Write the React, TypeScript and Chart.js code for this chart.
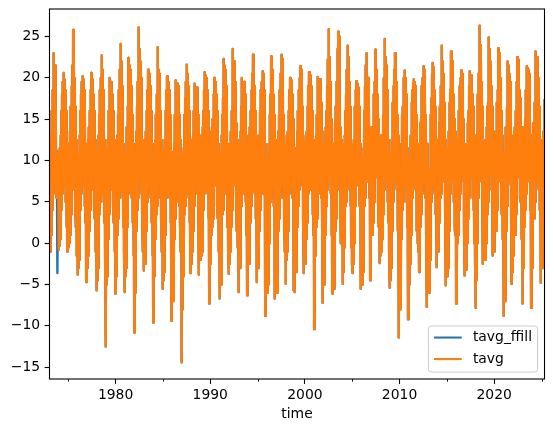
import React, { useEffect, useRef } from "react";
import { Chart, registerables } from "chart.js";

Chart.register(...registerables);

// ---- data: daily-average temperature, sampled twice a month (24 samples / year) ----
const FIRST_YEAR = 1973;
const SAMPLES_PER_YEAR = 24;
const seriesNames = ["tavg_ffill", "tavg"];
const seriesColors = ["#1f77b4", "#ff7f0e"];

type Row = (number | null)[];

const tavg1970s: Row[] = [
  [10, -0.5, 11, -1.0, 13, 1, 16, 4, 18.5, 6, 23.0, 7, 21, 8, 21.5, 7.5, 19, 5.5, 11.2, null, -3.6, null, 10.5, -0.8],
  [11, -0.3, 11.5, 0.5, 13, 1.5, 16, 4, 18, 6, 19.5, 7, 20.6, 7.5, 19.8, 7, 18.5, 5, 16, 2, 12.5, -1.0, 11.5, -0.5],
  [12, -0.5, 11, 0, 13.5, 1, 16.5, 3.5, 19, 5.5, 21.5, 6.5, 25.8, 8, 23, 8, 20, 5.5, 16.5, 2, 12.5, -1.5, 11, -3.8],
  [10.5, -3, 11, -2, 13, 1, 16, 4, 18, 6, 19.5, 7, 20.2, 7.5, 19.8, 7, 18.5, 4.5, 16, 2.5, 12, -4.7, 11, -2.5],
  [12, -3, 12.5, -1.5, 14, 1.5, 16, 4, 18.5, 5, 20.6, 6.5, 19.8, 7.5, 19.5, 7, 18, 4.5, 16, 3, 12.5, -1, 11.5, -5.7],
  [10.5, -4.5, 11, -3, 13, 1, 15.5, 3.5, 18.5, 5, 20, 6, 22.7, 7, 21, 6.5, 18.5, 5, 16, 2.5, 12.5, -1.5, 11.5, -12.5],
  [9, -5, 10, -4, 12.5, 0.5, 16, 3.5, 20.0, 5, 19, 7, 19.5, 7.5, 19.5, 6.5, 18, 5, 16, 2.5, 12.5, -1, 12, -6.1],
];

const tavg1980s: Row[] = [
  [10.5, -4, 12, -1.5, 13, 1, 15.5, 3, 18.5, 5.5, 21, 6.5, 24.1, 7.5, 22, 7, 19, 5.5, 15.5, 2, 12, -1, 11, -5.9],
  [11, -4, 11, -3, 14, 2, 16.5, 4, 22.4, 6, 20.5, 7, 21.5, 7.5, 21, 6.5, 19, 5.5, 15.5, 2.5, 12, -1.5, 10.5, -10.8],
  [9, -6, 11, -3, 13.5, 1.5, 16.5, 4, 19.5, 5.5, 26.1, 7.5, 23.5, 8, 22, 7.5, 20, 6, 16.5, 3, 12.5, -1, 12, -3.3],
  [12.5, -1, 11, -2.5, 13.5, 1.5, 16, 4.5, 18.5, 5, 21.0, 7, 20.5, 8, 20.5, 7.5, 19, 5.5, 16, 2.5, 12, -1.5, 11, -9.6],
  [10, -4, 10.5, -3, 12.5, 0.5, 15.5, 3.5, 18, 4.5, 23.7, 6, 21, 7, 20.5, 7, 19, 5.5, 16, 3, 12.5, -1, 11.5, -5.5],
  [9, -4.5, 10, -3.5, 12.5, 1, 16, 4, 18.5, 5.5, 20.2, 6, 19.8, 7, 19.5, 6.5, 18.5, 5.5, 15.5, 2.5, 12, -9.4, 11, -2.5],
  [10, -3.5, 8, -7, 12, 0.5, 15.5, 3, 19.7, 5, 19, 6.5, 19.3, 7, 19, 6.5, 17.5, 4.5, 15.5, 2.5, 12.5, -1, 11, -14.4],
  [7.5, -8, 9.5, -4, 11.5, 0, 15.5, 3.5, 17.5, 4.5, 19.5, 6, 21.6, 7, 20.5, 6.5, 19, 5.5, 16, 2.5, 12, -3.6, 11.5, -2],
  [12.5, -2.5, 12.5, -1, 13, 1.5, 16, 4.5, 19.3, 6, 18.5, 7, 18.8, 7.5, 18.8, 7, 17.5, 5.5, 15.5, -3.8, 12, -1.5, 12, -2],
  [13, -1.5, 13, -1, 14, 2, 16, 4, 18.5, 6, 20.7, 6.5, 20.3, 8, 20, 7, 18.5, 6, 16, 3, 12, -7.3, 11, -2.5],
];

const tavg1990s: Row[] = [
  [12, -2, 13.5, 1, 14, 2, 15, 3, 18, 6, 20.0, 7, 19.5, 7.5, 19.5, 7.5, 18, 4.5, 16, 3, 12, -1, 11, -6.7],
  [10.5, -2.5, 9, -5, 13, 2, 15.5, 3.5, 17.5, 4, 22.3, 6, 21.5, 8, 21, 7.5, 19, 6, 15.5, 2, 12, -1, 11, -3.7],
  [11.5, -2.5, 12, -1, 13.5, 2, 16, 4, 23.5, 6, 20.5, 7, 22, 8, 22, 8, 19.5, 6, 14.5, 1.5, 12.5, -0.5, 11.5, -5.9],
  [12, -2.5, 11, -3, 13.5, 1.5, 16.5, 4.5, 20.0, 6, 19.5, 7, 19, 7, 19.5, 6, 18, 5, 14.5, 1, 11.5, -6.3, 11.5, -2.5],
  [13, -2, 11, -2.5, 14, 2.5, 16, 4.5, 18.5, 6, 20.5, 6.5, 22.8, 8.5, 22, 7.5, 19, 6, 16, 3, 13, -4.7, 12, -1.5],
  [11.5, -3, 13, -1, 13, 1.5, 16, 4, 18.5, 6, 19.5, 6, 20.8, 8.5, 20.5, 8, 18.5, 6, 15.5, -8.8, 12, -1, 10.5, -3.5],
  [9, -6, 9.5, -5, 12, 0, 15.5, 3.5, 18, 5, 22.6, 7, 20.5, 7.5, 21, 7.5, 18, 4.5, 15.5, -6.7, 12.5, -1, 10, -4],
  [8.5, -6, 12, -1, 13.5, 1.5, 15.5, 3, 18.5, 5.5, 20.5, 7, 22.8, 8.5, 22.3, 8.5, 19, 5.5, 15.5, 2, 12, -1, 11.5, -4.9],
  [12, -2, 13, -1, 13.5, 1.5, 16, 4, 18.5, 6, 20.0, 7, 19.5, 7.5, 19.7, 7, 18, 5.5, 15, -5.7, 6, -5.9, 10.5, -3],
  [11.5, -3.5, 10.5, -3, 13.5, 2, 16, 4.5, 18.5, 6.5, 20, 7, 21.4, 8.5, 21, 8, 20.5, 7, 16.5, 3, 12, -3.6, 12, -1.5],
];

const tavg2000s: Row[] = [
  [12, -2.5, 13, 0.5, 13.5, 2.5, 16.5, 4.5, 19, 6, 20.7, 7, 19.5, 6.5, 20.3, 7.5, 19, 6.5, 16, 3.5, 13, 1, 12, -10.4],
  [12, -3, 12.5, -1.5, 13, 2, 15.5, 3, 20.1, 6, 19, 6, 19.8, 8, 19.8, 8, 17.5, 5.5, 17, 4.5, 12, -7.2, 11, -3.5],
  [11.5, -5, 13.5, 1, 14, 2, 16, 4.5, 19, 6.5, 22.2, 7.5, 25.9, 8.5, 22.5, 8.5, 19.5, 6, 15, 1, 11.5, -6.1, 10.5, -1.5],
  [12, -4.5, 10, -5.5, 14.5, 1.5, 16.5, 3, 19.5, 6.5, 23.5, 8.5, 25.6, 9.5, 25, 9, 20, 5.5, 14, 0, 12.5, 1.5, 11.5, -4.9],
  [10.5, -3.5, 12, -0.5, 13, 1, 16, 4.5, 18, 5, 21, 7, 23.9, 8, 22.5, 8.5, 19.5, 6.5, 16.5, 4.5, 12.5, -0.5, 11, -2.5],
  [12, -3.6, 9.5, -2.5, 12.5, 0, 16.5, 4.5, 18.5, 5.5, 19.6, 7.5, 19.3, 7.5, 19, 7, 18.8, 7, 16.5, 4.5, 12, -5.5, 10.5, -3],
  [9, -5, 10, -3.5, 11.5, 0.5, 16, 4.5, 19, 5.5, 21.5, 7.5, 23.0, 9, 19.5, 7.5, 20, 8, 17.5, 5.5, 13, -4.5, 12.5, 0.5],
  [14, 1, 12.5, 1, 14, 2.5, 18, 5, 19.5, 7, 23.4, 8, 21, 8.5, 20.5, 8, 18, 5, 15, 2, 11.5, -2.4, 10.5, -1.5],
  [13, -1, 13, -0.5, 12.5, 0.5, 15.5, 3.5, 20, 6.5, 24.7, 7.5, 22.5, 8.5, 21.5, 7.5, 18.5, 5, 15.5, 2.5, 12.5, -1, 11, -5.4],
  [8, -4.5, 10, -3, 12.5, 1.5, 17, 5, 19, 6.5, 21, 7.5, 23.0, 9, 22.5, 8.5, 19.5, 6.5, 15.5, 1.5, 13, -11.4, 10, -4],
];

const tavg2010s: Row[] = [
  [6, -8, 7.5, -7, 12, 0.5, 15.5, 4, 16.5, 5, 20, 7, 20.9, 9, 20, 7.5, 18, 5, 15.5, 2, 11.5, -9.2, 6.5, -6],
  [9.5, -5, 10.5, -2.5, 13, 1, 17, 5, 18.5, 5.5, 19.3, 7.5, 19.8, 8, 19.5, 8, 19, 6.5, 15.5, 1.5, 12, 0, 11.5, -1],
  [12, -3.5, 8.5, -3, 14.5, 2, 15, 3.5, 19, 6, 20, 7.5, 21.4, 8.5, 21, 8, 18.5, 5.5, 15.5, 1, 12, -7.7, 12, -1],
  [9, -5, 8, -6, 9, -2, 15.5, 4, 17.5, 5, 20.5, 7, 21.8, 9, 21.3, 8, 18.5, 6, 16.5, 3.5, 11.5, -2.9, 11.5, -0.5],
  [12.5, -1, 12.5, 1, 14.5, 2.5, 16.5, 5.5, 19, 6, 23.9, 7.5, 22, 9, 20.5, 7.5, 19.5, 7.5, 17, 4.5, 12.5, -5.1, 11.5, -3],
  [11.5, -4, 10.5, -3, 13.5, 1.5, 17, 3.5, 18.5, 6, 23.2, 7.5, 22.5, 8.5, 22, 8.5, 18, 5, 15, 1.5, 13.5, 1, 13.5, -7.3],
  [10, -5, 12.5, 0, 12.5, 1, 16, 4, 19, 6, 20, 8, 20.9, 8.5, 20.5, 8.5, 20, 7.5, 15, 2, 12, -3.9, 11, -3],
  [9, -3.2, 12, 0, 14.5, 3, 16, 3, 19, 5.5, 20.8, 8, 20.3, 8.5, 20.3, 8.5, 18, 5.5, 16.5, 4, 12.5, 0, 11.5, -2],
  [13, -7.8, 8.5, -4.5, 11, 0, 18, 5.5, 20.5, 7.5, 26.3, 8.5, 24, 9.5, 23, 8.5, 19.5, 6.5, 16.5, -2.5, 12.5, -1, 12, 1.5],
  [11, -2, 12.5, 0, 14, 2.5, 16.5, 3.5, 17, 5, 24.9, 8.5, 23.5, 8.5, 22, 8.5, 19, 6.5, 16.5, -1.5, 12.5, 0, 12.5, -1],
];

const tavg2020s: Row[] = [
  [12.5, -0.5, 13.5, 1.5, 13.5, 1.5, 17, 4, 18.5, 5.5, 23.6, 7.5, 22, 8.5, 23, 9, 20, 6.5, 16, 3.5, 13, 0.5, 11, -8.8],
  [9, -4, 7.5, -7, 14, 1.5, 13.5, 1.5, 16.5, 4.5, 22.0, 8, 21.5, 8.5, 20.5, 7.5, 19.5, 7, 15.5, -4.9, 12, -0.5, 10.5, -3.5],
  [13, -1.5, 13.5, 1, 14, 1, 16, 3.5, 19.5, 6.5, 22.5, 8.5, 22.2, 8, 22.2, 9, 18.5, 5.5, 17.5, 5, 13, 0.5, 10.5, -7.3],
  [14, -3, 12, -1.5, 14, 2, 15, 4, 18.5, 6, 21.4, 7.5, 21.2, 8, 21, 8, 20.5, 8.5, 17, 4, 12.5, -7.8, 13, 0],
  [12.5, -3, 14.5, 3.5, 14.5, 3, 17, 5, 23.2, 6.5, 21, 7.5, 22, 8.5, 22.5, 9, 20, 6.5, 16.5, 4, 12.5, -4.8, 11.5, -2.5],
  [10, -3, 11.5, -1, 13.5, 2, 11, 17.4],
];

const xMajorTicks = [1980, 1990, 2000, 2010, 2020];
const xMinorTicks = [1975, 1985, 1995, 2005, 2015, 2025];
const yTicks = [-15, -10, -5, 0, 5, 10, 15, 20, 25];
const xAxisTitle = "time";

// ---- helpers ----
type Pt = { x: number; y: number | null };

function buildTavg(): Pt[] {
  const rows = [...tavg1970s, ...tavg1980s, ...tavg1990s, ...tavg2000s, ...tavg2010s, ...tavg2020s];
  const pts: Pt[] = [];
  rows.forEach((row, yi) => {
    row.forEach((v, si) => {
      pts.push({ x: FIRST_YEAR + yi + (si + 0.5) / SAMPLES_PER_YEAR, y: v });
    });
  });
  return pts;
}

function forwardFill(pts: Pt[]): Pt[] {
  let last: number | null = null;
  return pts.map((p) => {
    if (p.y !== null) last = p.y;
    return { x: p.x, y: last };
  });
}

const FS = 13.9; // 10pt at 100 dpi
const FONT = "'DejaVu Sans', 'Liberation Sans', sans-serif";
const LINE_W = 2.4;

const fmtNum = (v: number) => (v < 0 ? "\u2212" + Math.abs(v) : String(v));

const mplPlugin = {
  id: "mplDecor",
  afterDatasetsDraw(chart: any) {
    const { ctx, chartArea: a } = chart;
    ctx.save();
    // spines
    ctx.strokeStyle = "#000";
    ctx.lineWidth = 1.1;
    ctx.strokeRect(a.left, a.top, a.right - a.left, a.bottom - a.top);
    // minor x ticks
    const xs = chart.scales.x;
    ctx.lineWidth = 0.85;
    for (const v of xMinorTicks) {
      const px = Math.round(xs.getPixelForValue(v)) + 0.5;
      if (px < a.left - 1 || px > a.right + 1) continue;
      ctx.beginPath();
      ctx.moveTo(px, a.bottom);
      ctx.lineTo(px, a.bottom + 2.8);
      ctx.stroke();
    }
    // legend (lower right)
    ctx.font = `${FS}px ${FONT}`;
    const pad = 0.4 * FS;
    const handleLen = 2 * FS;
    const handlePad = 0.8 * FS;
    const textW = Math.max(...seriesNames.map((s) => ctx.measureText(s).width));
    const right = a.right - 0.5 * FS;
    const bottom = a.bottom - 0.5 * FS;
    const w = pad + handleLen + handlePad + textW + pad;
    const h = 46;
    const left = right - w;
    const top = bottom - h;
    ctx.beginPath();
    if (ctx.roundRect) ctx.roundRect(left, top, w, h, 0.2 * FS);
    else ctx.rect(left, top, w, h);
    ctx.fillStyle = "rgba(255,255,255,0.8)";
    ctx.fill();
    ctx.strokeStyle = "#cccccc";
    ctx.lineWidth = 1;
    ctx.stroke();
    const rowsY = [top + 11.5, top + 33];
    seriesNames.forEach((name, i) => {
      const y = rowsY[i];
      ctx.strokeStyle = seriesColors[i];
      ctx.lineWidth = 2.08;
      ctx.beginPath();
      ctx.moveTo(left + pad, y);
      ctx.lineTo(left + pad + handleLen, y);
      ctx.stroke();
      ctx.fillStyle = "#000";
      ctx.textAlign = "left";
      ctx.textBaseline = "middle";
      ctx.fillText(name, left + pad + handleLen + handlePad, y);
    });
    ctx.restore();
  },
};

export default function App() {
  const ref = useRef<HTMLCanvasElement | null>(null);

  useEffect(() => {
    if (!ref.current) return;
    const tavg = buildTavg();
    const tavgFfill = forwardFill(tavg);
    const xMin = tavg[0].x;
    const xMax = tavg[tavg.length - 1].x;
    const vals = tavgFfill.map((p) => p.y as number);
    const lo = Math.min(...vals);
    const hi = Math.max(...vals);
    const m = (hi - lo) * 0.05;

    const chart = new Chart(ref.current, {
      type: "line",
      data: {
        datasets: [
          {
            label: seriesNames[0],
            data: tavgFfill as any,
            borderColor: seriesColors[0],
            backgroundColor: seriesColors[0],
            borderWidth: LINE_W,
            pointRadius: 0,
            borderJoinStyle: "round",
            tension: 0,
            order: 2,
          },
          {
            label: seriesNames[1],
            data: tavg as any,
            borderColor: seriesColors[1],
            backgroundColor: seriesColors[1],
            borderWidth: LINE_W,
            pointRadius: 0,
            borderJoinStyle: "round",
            tension: 0,
            spanGaps: false,
            order: 1,
          },
        ],
      },
      options: {
        responsive: false,
        maintainAspectRatio: false,
        devicePixelRatio: 1,
        animation: false,
        events: [],
        layout: { padding: { top: 9, right: 9.5, left: 0, bottom: 0 } },
        plugins: { legend: { display: false }, tooltip: { enabled: false } },
        scales: {
          x: {
            type: "linear",
            min: xMin,
            max: xMax,
            afterFit: (s: any) => {
              s.height = 53;
              s.paddingLeft = 0;
              s.paddingRight = 0;
            },
            afterBuildTicks: (s: any) => {
              s.ticks = xMajorTicks.filter((v) => v >= xMin && v <= xMax).map((v) => ({ value: v }));
            },
            grid: {
              drawOnChartArea: false,
              drawTicks: true,
              tickLength: 4.9,
              tickWidth: 1.1,
              tickColor: "#000",
            },
            border: { display: false },
            ticks: {
              autoSkip: false,
              maxRotation: 0,
              padding: 3,
              color: "#000",
              font: { family: FONT, size: FS },
              callback: (v: any) => String(v),
            },
            title: {
              display: true,
              text: xAxisTitle,
              color: "#000",
              font: { family: FONT, size: FS },
              padding: { top: 0, bottom: 9.5 },
            },
          },
          y: {
            type: "linear",
            min: lo - m,
            max: hi + m,
            afterFit: (s: any) => {
              s.width = 49.5;
              s.paddingTop = 0;
              s.paddingBottom = 0;
            },
            afterBuildTicks: (s: any) => {
              s.ticks = yTicks.map((v) => ({ value: v }));
            },
            grid: {
              drawOnChartArea: false,
              drawTicks: true,
              tickLength: 4.9,
              tickWidth: 1.1,
              tickColor: "#000",
            },
            border: { display: false },
            ticks: {
              autoSkip: false,
              padding: 4.5,
              color: "#000",
              font: { family: FONT, size: FS },
              callback: (v: any) => fmtNum(Number(v)),
            },
          },
        },
      },
      plugins: [mplPlugin],
    });
    return () => chart.destroy();
  }, []);

  return (
    <div style={{ position: "fixed", left: 0, top: 0, width: 554, height: 432, background: "#fff" }}>
      <canvas ref={ref} width={554} height={432} style={{ display: "block", width: 554, height: 432 }} />
    </div>
  );
}
